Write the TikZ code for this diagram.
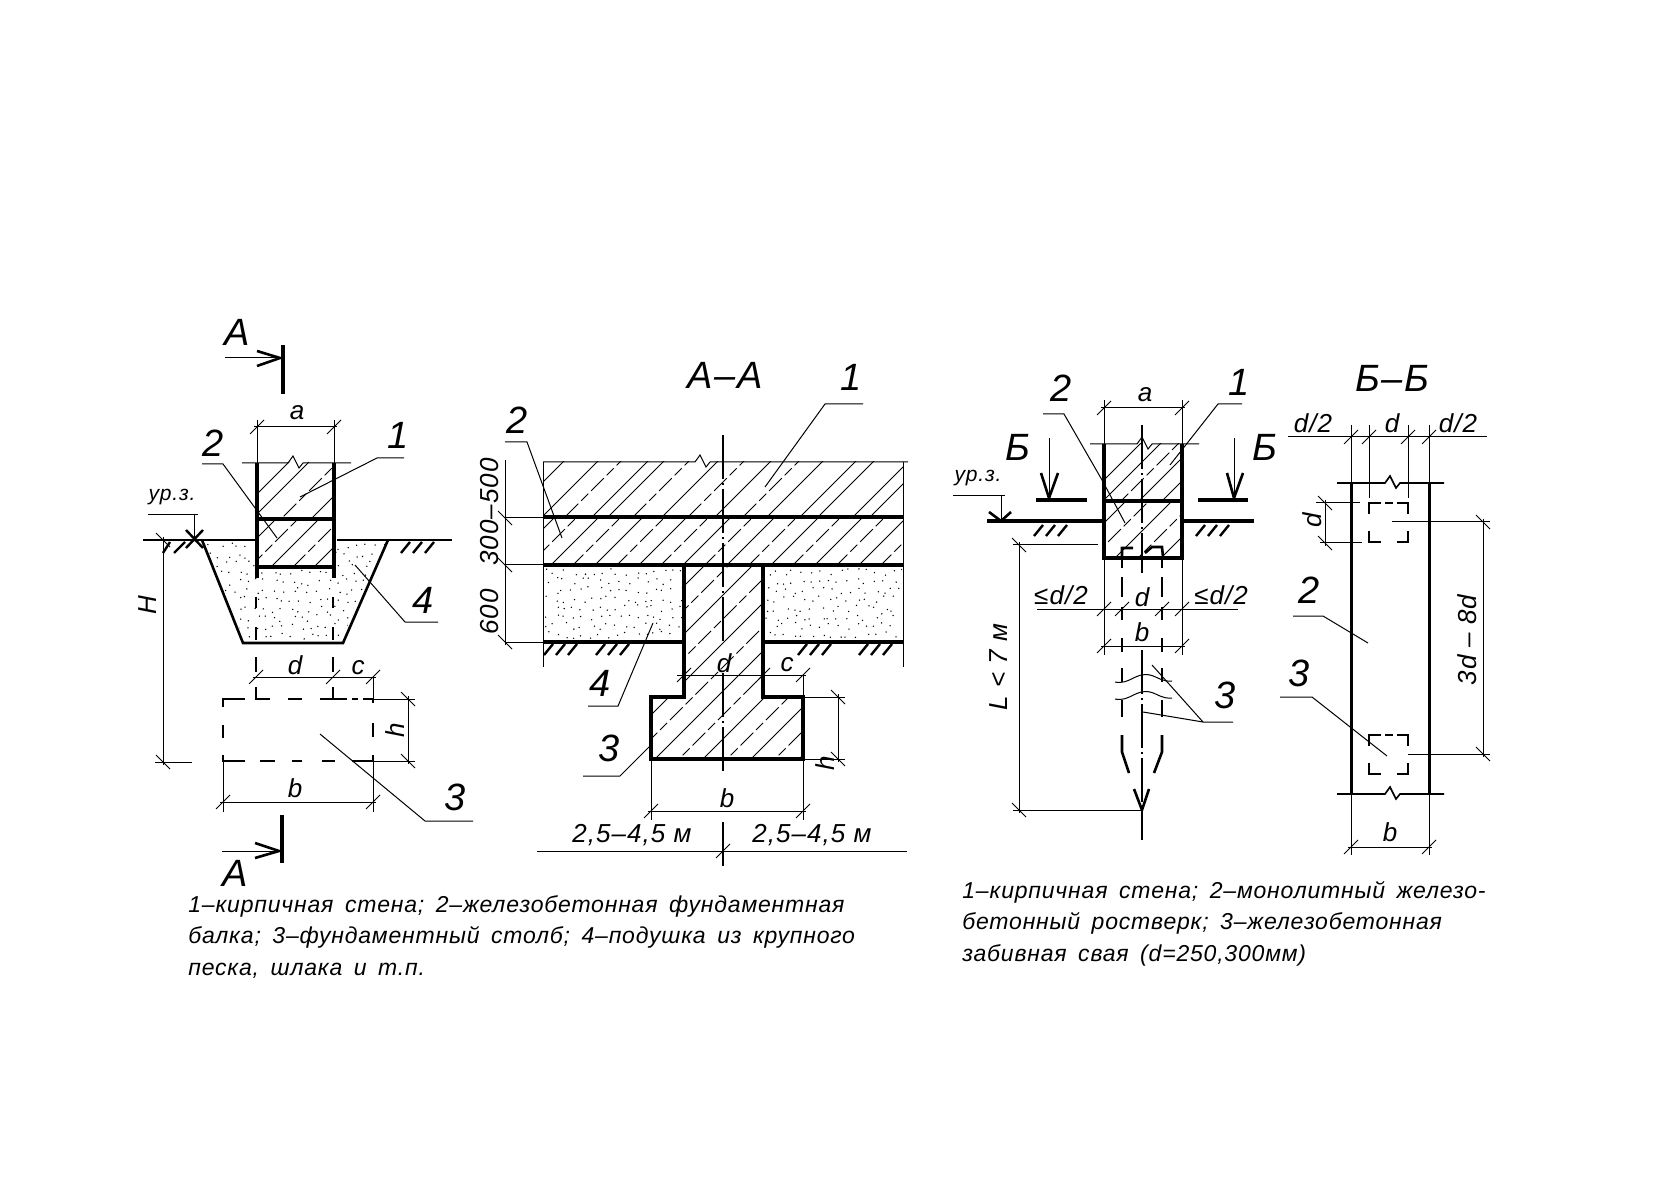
\documentclass[tikz,border=0pt]{standalone}
\usepackage{fontspec}
\setmainfont{Liberation Sans}
\newfontfamily\capfont[LetterSpace=3.5,WordSpace=1.6]{Liberation Sans}
\newfontfamily\lblfont[LetterSpace=4]{Liberation Sans}
\tikzset{
	wall/.style={line width=2.3pt},
	lwall/.style={line width=1.5pt},
	medl/.style={line width=1.3pt},
	thinl/.style={line width=0.5pt},
	dimline/.style={line width=0.5pt},
	hatch/.style={line width=0.45pt},
	hatchd/.style={line width=0.4pt,dash pattern=on 9pt off 2pt on 5pt off 2pt},
	gstroke/.style={line width=1.2pt},
	axisl/.style={line width=0.55pt,dash pattern=on 22pt off 2pt on 1pt off 2pt},
	numlbl/.style={font=\lblfont\itshape\fontsize{19}{19}\selectfont},
	dimlbl/.style={font=\lblfont\itshape\fontsize{13}{13}\selectfont},
	smalllbl/.style={font=\lblfont\itshape\fontsize{10.5}{10.5}\selectfont},
	caplbl/.style={font=\capfont\itshape\fontsize{11.5}{15.7}\selectfont,align=left,anchor=north west,inner sep=0pt}
}
\newcommand{\htick}[2]{\draw[dimline] (#1-7,#2+7) -- (#1+7,#2-7);}
\newcommand{\vtick}[2]{\draw[dimline] (#1-7,#2-7) -- (#1+7,#2+7);}
\newcommand{\dimh}[3]{\draw[dimline] (#1-3,#3) -- (#2+3,#3); \htick{#1}{#3} \htick{#2}{#3}}
\newcommand{\dimv}[3]{\draw[dimline] (#1,#2-3) -- (#1,#3+3); \vtick{#1}{#2} \vtick{#1}{#3}}
\newcommand{\ghatch}[2]{\foreach \k in {0,12,24} {\draw[gstroke] (#1+\k,#2) -- (#1+\k-9,#2+11);}}
\newcommand{\hatchs}[1]{\foreach \s in {#1} {\draw[hatch] (\s-300,300) -- (\s-1000,1000);}}
\newcommand{\hatchds}[1]{\foreach \s in {#1} {\draw[hatchd] (\s-300,300) -- (\s-1000,1000);}}
\newcommand{\sand}[4]{\foreach \i in {0,9,...,#3} {\foreach \j in {0,9,...,#4} {\fill (#1+\i+rnd*7-3.5,#2+\j+rnd*7-3.5) circle (0.38pt);}}}
\newcommand{\zig}[2]{-- (#1-5,#2) -- (#1,#2-7) -- (#1+6,#2+5) -- (#1+10,#2)}

\begin{document}
\begin{tikzpicture}[x=0.5pt,y=-0.5pt]
\useasboundingbox (0,0) rectangle (1654,1181);
\pgfmathsetseed{42}

%%%%%%%%%%%%%%%%%%%%%%%%%%%%%%%%%%%%%% left section

\begin{scope}
\clip (204,542) -- (245,641) -- (341,641) -- (386,542) -- cycle;
\sand{202}{546}{186}{95}
\end{scope}
\fill[white] (257,463) rectangle (334,567);

\begin{scope}
\clip (257,463) rectangle (334,519);
\hatchs{751,771,830}
\hatchds{800}
\end{scope}
\begin{scope}
\clip (257,519) rectangle (334,567);
\hatchs{795,838,881}
\hatchds{817,860}
\end{scope}

\draw[wall] (257,463) -- (257,578);
\draw[wall] (334,463) -- (334,578);
\draw[wall] (257,519) -- (334,519);
\draw[wall] (257,567) -- (334,567);
\draw[thinl] (242,463) \zig{293}{463} -- (351,463);
\draw[medl] (143,540) -- (255,540) (337,540) -- (452,540);
\draw[medl] (202,540) -- (243,643) -- (343,643) -- (388,540);
\foreach \x in {256,333} {
	\draw[medl] (\x,597) -- (\x,608) (\x,627) -- (\x,640) (\x,657) -- (\x,672) (\x,687) -- (\x,699);
}
\ghatch{410}{542}
\draw[gstroke] (170,542) -- (163,553) (185,542) -- (174,553);
\draw[gstroke] (186,530) -- (203,548) (203,530) -- (186,548);

% footing
\draw[medl] (223,707) -- (223,699) -- (245,699) (255,699) -- (270,699) (288,699) -- (302,699) (320,699) -- (347,699) (352,699) -- (358,699) (363,699) -- (373,699);
\draw[medl] (223,725) -- (223,738) (223,755) -- (223,761) -- (245,761) (260,761) -- (275,761) (292,761) -- (302,761) (322,761) -- (335,761) (352,761) -- (373,761) -- (373,755);
\draw[medl] (373,699) -- (373,703) (373,723) -- (373,737);

% dimensions
\draw[thinl] (257,420) -- (257,463) (334,420) -- (334,463);
\dimh{257}{334}{427}
\draw[thinl] (148,515) -- (198,515) (194,515) -- (194,540);
\dimv{163}{540}{762}
\draw[thinl] (155,762) -- (192,762);
\dimh{256}{373}{677}
\htick{333}{677}
\draw[thinl] (373,677) -- (373,699);
\draw[thinl] (373,699) -- (415,699) (373,761) -- (415,761);
\dimv{408}{699}{761}
\draw[thinl] (223,761) -- (223,812) (373,761) -- (373,812);
\dimh{223}{373}{802}

% section marks
\draw[wall] (283,345) -- (283,394);
\draw[thinl] (225,358) -- (283,358);
\draw[medl] (257,351) -- (280,358) -- (257,366);
\draw[wall] (282,815) -- (282,863);
\draw[thinl] (222,851) -- (282,851);
\draw[medl] (255,843) -- (279,851) -- (255,858);

% leaders
\draw[thinl] (202,464) -- (223,464) -- (277,538);
\draw[thinl] (404,458) -- (377,458) -- (300,497);
\draw[thinl] (438,622) -- (405,622) -- (355,565);
\draw[thinl] (473,821) -- (425,821) -- (320,734);

\node[numlbl] (secA) at (237,332) {А};
\node[numlbl] (secAb) at (235,873) {А};
\node[numlbl] (two) at (213,443) {2};
\node[numlbl] (one) at (398,435) {1};
\node[numlbl] (four) at (423,600) {4};
\node[numlbl] (three) at (455,797) {3};
\node[smalllbl] (lvl) at (172,497) {ур.з.};
\node[dimlbl] (dima) at (297,413) {a};
\node[dimlbl,rotate=90] (dimH) at (148,605) {H};
\node[dimlbl] (dimd) at (295,665) {d};
\node[dimlbl] (dimc) at (358,668) {c};
\node[dimlbl,rotate=90] (dimh) at (395,730) {h};
\node[dimlbl] (dimb) at (295,788) {b};

%%%%%%%%%%%%%%%%%%%%%%%%%%%%%%%%%%%%%% section A-A

\begin{scope}
\clip (545,568) rectangle (682,640);
\sand{546}{572}{135}{68}
\end{scope}
\begin{scope}
\clip (765,568) rectangle (902,640);
\sand{767}{572}{135}{68}
\end{scope}

\begin{scope}
\clip (543,462) rectangle (903,517);
\hatchs{1025,1059,1109,1125,1179,1232,1284,1317,1335,1370,1387}
\hatchds{1082,1150,1205,1260}
\end{scope}
\begin{scope}
\clip (543,517) rectangle (903,565);
\hatchs{1072,1116,1160,1204,1248,1292,1336,1380,1424,1468}
\hatchds{1094,1138,1182,1226,1270,1314,1358,1402,1446}
\end{scope}
\begin{scope}
\clip (684,565) -- (763,565) -- (763,697) -- (803,697) -- (803,759) -- (651,759) -- (651,697) -- (684,697) -- cycle;
\hatchs{1270,1318,1366,1414,1462,1510,1558}
\hatchds{1294,1342,1390,1438,1486,1534}
\end{scope}

\draw[thinl] (543,462) \zig{700}{462} -- (908,462);
\draw[thinl] (543,462) -- (543,667) (903,462) -- (903,667);
\draw[wall] (543,517) -- (903,517);
\draw[wall] (543,565) -- (903,565);
\draw[wall] (543,642) -- (684,642) (763,642) -- (903,642);
\draw[wall,line join=miter] (684,565) -- (684,697) -- (651,697) -- (651,759) -- (803,759) -- (803,697) -- (763,697) -- (763,565);
\foreach \x in {553,605,807,868} {
	\ghatch{\x}{644}
}
\draw[axisl] (723,435) -- (723,643);
\draw[axisl] (723,673) -- (723,773);
\draw[axisl] (723,822) -- (723,867);

% dimensions
\draw[thinl] (505,518) -- (543,518) (505,565) -- (543,565) (505,642) -- (543,642);
\draw[dimline] (505,460) -- (505,645);
\vtick{505}{518} \vtick{505}{565} \vtick{505}{642}
\draw[dimline] (677,675) -- (806,675);
\htick{684}{675} \htick{763}{675} \htick{803}{675}
\draw[thinl] (803,675) -- (803,697);
\draw[thinl] (803,697) -- (845,697) (803,759) -- (845,759);
\dimv{838}{697}{759}
\draw[thinl] (651,759) -- (651,820) (803,759) -- (803,820);
\dimh{651}{803}{811}
\draw[dimline] (537,851) -- (907,851);
\htick{723}{851}

% leaders
\draw[thinl] (863,404) -- (825,404) -- (765,487);
\draw[thinl] (505,442) -- (527,442) -- (562,538);
\draw[thinl] (588,706) -- (618,706) -- (653,623);
\draw[thinl] (583,776) -- (620,776) -- (650,746);

\node[numlbl] (secAA) at (725,375) {А–А};
\node[numlbl] (twoM) at (517,420) {2};
\node[numlbl] (oneM) at (851,377) {1};
\node[numlbl] (fourM) at (600,683) {4};
\node[numlbl] (threeM) at (609,748) {3};
\node[dimlbl,rotate=90] (h300) at (490,512) {300–500};
\node[dimlbl,rotate=90] (h600) at (490,612) {600};
\node[dimlbl] (dimdM) at (724,663) {d};
\node[dimlbl] (dimcM) at (787,665) {c};
\node[dimlbl,rotate=90] (dimhM) at (825,763) {h};
\node[dimlbl] (dimbM) at (727,798) {b};
\node[dimlbl] (spanL) at (632,835) {2,5–4,5 м};
\node[dimlbl] (spanR) at (812,835) {2,5–4,5 м};

%%%%%%%%%%%%%%%%%%%%%%%%%%%%%%%%%%%%%% pile footing

\begin{scope}
\clip (1104,444) rectangle (1182,501);
\hatchs{1584,1604,1640,1663}
\hatchds{1622}
\end{scope}
\begin{scope}
\clip (1104,501) rectangle (1182,558);
\hatchs{1627,1673,1719}
\hatchds{1650,1696}
\end{scope}

\draw[thinl] (1090,444) \zig{1142}{444} -- (1199,444);
\draw[wall] (1104,444) -- (1104,558) -- (1182,558) -- (1182,444);
\draw[wall] (1104,501) -- (1182,501);
\draw[wall] (987,521) -- (1104,521) (1182,521) -- (1254,521);
\ghatch{1043}{525}
\ghatch{1205}{525}
\draw[medl] (1122,558) -- (1122,548) -- (1133,548) (1145,553) -- (1152,547) -- (1162,547) -- (1163,557);

% pile
\foreach \x in {1122,1162} {
	\draw[medl] (\x,558) -- (\x,568) (\x,577) -- (\x,597) (\x,607) -- (\x,620) (\x,638) -- (\x,652) (\x,668) -- (\x,682) (\x,700) -- (\x,717);
}
\draw[medl] (1122,735) -- (1122,752) -- (1129,773);
\draw[medl] (1162,735) -- (1162,752) -- (1154,773);
\draw[thinl] (1115,682) .. controls (1130,685) and (1135,672) .. (1150,675) .. controls (1158,677) and (1162,682) .. (1172,681);
\draw[thinl] (1115,699) .. controls (1130,702) and (1135,689) .. (1150,692) .. controls (1158,694) and (1162,699) .. (1172,698);
\draw[axisl] (1142,425) -- (1142,573);
\draw[axisl] (1142,650) -- (1142,840);
\draw[medl] (1134,789) -- (1142,810) -- (1149,789);

% section marks
\draw[wall] (1036,500) -- (1087,500);
\draw[wall] (1198,500) -- (1248,500);
\draw[thinl] (1049,438) -- (1049,500);
\draw[thinl] (1234,438) -- (1234,500);
\draw[medl] (1041,473) -- (1049,498) -- (1058,473);
\draw[medl] (1227,473) -- (1234,498) -- (1243,473);
\draw[thinl] (953,496) -- (1005,496) (1001,496) -- (1001,521);
\draw[medl] (989,512) -- (1001,521) -- (1011,512);

% dimensions
\draw[thinl] (1104,400) -- (1104,444) (1182,400) -- (1182,444);
\dimh{1104}{1182}{408}
\draw[thinl] (1013,545) -- (1098,545);
\draw[thinl] (1013,810) -- (1142,810);
\dimv{1019}{545}{810}
\draw[dimline] (1037,609) -- (1238,609);
\htick{1104}{609} \htick{1122}{609} \htick{1162}{609} \htick{1182}{609}
\draw[thinl] (1104,558) -- (1104,655) (1182,558) -- (1182,655);
\dimh{1104}{1182}{646}
\draw[medl] (1122,640) -- (1122,652) (1162,640) -- (1162,652);

% leaders
\draw[thinl] (1043,414) -- (1064,414) -- (1102,480) -- (1125,523);
\draw[thinl] (1242,404) -- (1218,404) -- (1170,465);
\draw[thinl] (1233,722) -- (1203,722) -- (1152,665);
\draw[thinl] (1203,722) -- (1143,712);

\node[numlbl] (secBl) at (1018,447) {Б};
\node[numlbl] (secBr) at (1265,447) {Б};
\node[numlbl] (twoR) at (1061,388) {2};
\node[numlbl] (oneR) at (1239,382) {1};
\node[numlbl] (threeR) at (1225,695) {3};
\node[smalllbl] (lvlR) at (978,478) {ур.з.};
\node[dimlbl] (dimaR) at (1145,395) {a};
\node[dimlbl] (halfL) at (1061,595) {≤d/2};
\node[dimlbl] (halfR) at (1221,595) {≤d/2};
\node[dimlbl] (dimdR) at (1142,597) {d};
\node[dimlbl] (dimbR) at (1142,632) {b};
\node[dimlbl,rotate=90] (dimL) at (999,667) {L < 7 м};

%%%%%%%%%%%%%%%%%%%%%%%%%%%%%%%%%%%%%% section B-B

\draw[lwall] (1351,483) -- (1351,794);
\draw[lwall] (1429,483) -- (1429,794);
\draw[thinl,line width=0.8pt] (1337,483) \zig{1390}{483} -- (1444,483);
\draw[thinl,line width=0.8pt] (1337,794) \zig{1390}{794} -- (1444,794);

\foreach \y in {503,735} {
	\draw[medl] (1369,\y+11) -- (1369,\y) -- (1381,\y) (1385,\y) -- (1393,\y) (1397,\y) -- (1408,\y) -- (1408,\y+11);
	\draw[medl] (1369,\y+28) -- (1369,\y+39) -- (1381,\y+39) (1397,\y+39) -- (1408,\y+39) -- (1408,\y+28);
}

% dimensions
\draw[dimline] (1288,437) -- (1487,437);
\htick{1351}{437} \htick{1369}{437} \htick{1408}{437} \htick{1429}{437}
\draw[thinl] (1351,425) -- (1351,483) (1429,425) -- (1429,483);
\draw[thinl] (1369,425) -- (1369,498) (1408,425) -- (1408,498);
\draw[thinl] (1316,503) -- (1360,503) (1320,543) -- (1362,543);
\dimv{1325}{503}{543}
\draw[thinl] (1392,522) -- (1490,522) (1408,754) -- (1490,754);
\dimv{1483}{522}{754}
\draw[thinl] (1351,794) -- (1351,855) (1429,794) -- (1429,855);
\dimh{1351}{1429}{847}

% leaders
\draw[thinl] (1293,616) -- (1323,616) -- (1368,643);
\draw[thinl] (1280,697) -- (1312,697) -- (1387,756);

\node[numlbl] (secBB) at (1392,378) {Б–Б};
\node[numlbl] (twoB) at (1309,590) {2};
\node[numlbl] (threeB) at (1299,673) {3};
\node[dimlbl] (halfA) at (1313,423) {d/2};
\node[dimlbl] (dimdB) at (1392,423) {d};
\node[dimlbl] (halfB) at (1458,423) {d/2};
\node[dimlbl,rotate=90] (dimdS) at (1312,520) {d};
\node[dimlbl,rotate=90] (dimS) at (1467,640) {3d – 8d};
\node[dimlbl] (dimbB) at (1390,832) {b};

%%%%%%%%%%%%%%%%%%%%%%%%%%%%%%%%%%%%%% captions

\node[caplbl] (capL) at (188,895) {1–кирпичная стена; 2–железобетонная фундаментная\\балка; 3–фундаментный столб; 4–подушка из крупного\\песка, шлака и т.п.};
\node[caplbl] (capR) at (962,881) {1–кирпичная стена; 2–монолитный железо-\\бетонный ростверк; 3–железобетонная\\забивная свая (d=250,300мм)};

\end{tikzpicture}
\end{document}
